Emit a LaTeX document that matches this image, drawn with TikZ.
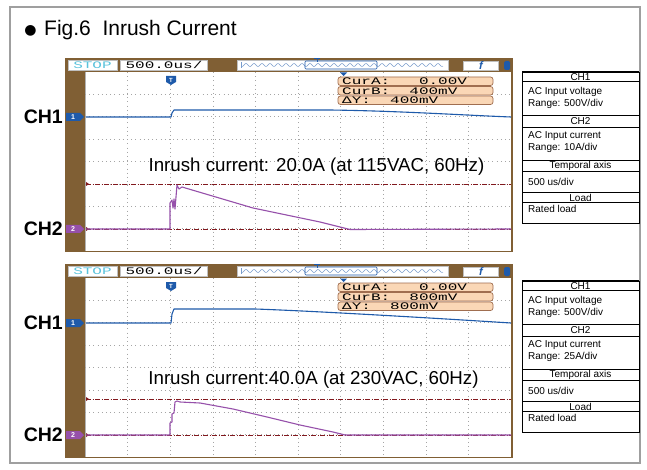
\documentclass[tikz,border=0pt]{standalone}
\usepackage{fontspec}
\setmainfont{Liberation Sans}
\newfontfamily\monofnt{Liberation Mono}
\newfontfamily\bulletfnt{DejaVu Sans}
\usetikzlibrary{calc}

\definecolor{scopebrown}{RGB}{128,95,52}
\definecolor{traceblue}{RGB}{30,90,170}
\definecolor{tracepurple}{RGB}{150,80,170}
\definecolor{cursorred}{RGB}{130,25,30}
\definecolor{peach}{RGB}{250,215,182}
\definecolor{peachline}{RGB}{160,110,80}
\definecolor{gridgray}{RGB}{165,165,165}
\definecolor{stopcyan}{RGB}{90,195,220}

% wide, flat lettering of the scope screen
\newcommand{\scopetxt}[1]{\scalebox{1.6}[1]{\monofnt\fontsize{10}{10}\selectfont #1}}

\begin{document}
\begin{tikzpicture}[x=1pt, y=-1pt]

                % Styles for the two scope screens and the side tables
                \tikzset{
                    trace/.style={line width=1.1pt, line join=round},
                    gridline/.style={gridgray, line width=0.6pt, dash pattern=on 0.8pt off 3.4pt},
                    cursorline/.style={cursorred, line width=0.8pt, dash pattern=on 5pt off 1.5pt on 1pt off 1.5pt},
                    cursorbox/.style={draw=peachline, fill=peach, rounded corners=2.5pt, line width=0.7pt},
                    scopelabel/.style={inner sep=0pt, anchor=west},
                    tabtext/.style={font=\fontsize{10}{12}\selectfont, inner sep=0pt},
                    chlabel/.style={font=\bfseries\fontsize{19.5}{20}\selectfont, inner sep=0pt, anchor=base east},
                    inrush/.style={font=\fontsize{18.7}{20}\selectfont, inner sep=0pt, anchor=base}
                }

                % Page size and the gray frame round everything
                \useasboundingbox (0,0) rectangle (647,470);
                \draw[gray!75, line width=1.5pt] (10,7) rectangle (640,463);

                % Title
                \node (bullet) at (30.5,31) [font=\bulletfnt\fontsize{14}{14}\selectfont, inner sep=0pt] {●};
                \node (title) at (44,36) [anchor=base west, inner sep=0pt, font=\fontsize{21}{24}\selectfont] {Fig.6\ \ Inrush Current};

                % The two scope screens, the second one 206 lower
                \foreach \n/\sy/\cb/\cu in {1/0/400mV/184, 2/206/800mV/193} {
                \begin{scope}[shift={(0,\sy)}]
                    % brown case and white screen
                    \fill[scopebrown] (65,58) rectangle (513,252);
                    \fill[white] (85,72) rectangle (511,251);
                    \draw[gray!60, line width=0.6pt] (85,72) -- (85,251);

                    % dotted grid, 10 x 8 divisions
                    \foreach \gx in {1,...,9}
                        \draw[gridline] ({85+42.6*\gx},72) -- ({85+42.6*\gx},251);
                    \foreach \gy in {1,...,7}
                        \draw[gridline] (85,{72+22.375*\gy}) -- (511,{72+22.375*\gy});

                    % top bar: run state, time base, memory window, trigger slope
                    \draw[gray!50, fill=white] (68,60) rectangle (117,70);
                    \node (stop\n) at (92.5,65.3) [inner sep=0pt, text=stopcyan] {\scopetxt{STOP}};
                    \draw[gray!50, fill=white] (120,60) rectangle (207,70);
                    \node (tdiv\n) at (164,65.3) [inner sep=0pt] {\scopetxt{500.0us/}};
                    \draw[gray!50, fill=white] (237,60) rectangle (448,70);
                    \draw[traceblue!60, line width=0.4pt] (241,62) -- (241,68);
                    \draw[traceblue!60, line width=0.5pt, domain=242:443, samples=300]
                        plot (\x, {65+1.5*sin((\x-240)*45)});
                    \draw[traceblue, line width=0.6pt, rounded corners=1pt] (305,61) rectangle (377,69);
                    \draw[traceblue, line width=0.7pt] (314,58.5) -- (320,58.5) (317,58.5) -- (317,62);
                    \draw[gray!50, fill=white] (463,61) rectangle (498,70);
                    \node (slope\n) at (481,65.5) [inner sep=0pt, text=traceblue, font=\itshape\bfseries\fontsize{11}{11}\selectfont] {f};
                    \fill[traceblue, rounded corners=1.5pt] (504,61) rectangle (510,70);

                    % trigger and cursor markers
                    \fill[traceblue] (166,76) -- (176,76) -- (176,82) -- (171,85) -- (166,82) -- cycle;
                    \node (trig\n) at (171,80) [inner sep=0pt, text=white, font=\bfseries\fontsize{6}{6}\selectfont] {T};
                    \fill[traceblue] (340,72.5) -- (347,72.5) -- (343.5,76) -- cycle;

                    % cursor read-outs
                    \draw[cursorbox] (338,77) rectangle (493,85.5);
                    \draw[cursorbox] (338,86.5) rectangle (493,95);
                    \draw[cursorbox] (338,96) rectangle (493,104.5);
                    \node (cura\n) at (342,81.3) [scopelabel] {\scopetxt{CurA:\ \ \ 0.00V}};
                    \node (curb\n) at (342,90.8) [scopelabel] {\scopetxt{CurB:\ \ \cb}};
                    \node (dy\n) at (342,100.3) [scopelabel] {\scopetxt{ΔY:\ \ \cb}};

                    % CH2 cursor lines
                    \draw[cursorline] (86,\cu) -- (511,\cu);
                    \draw[cursorline] (86,229) -- (511,229);
                    \fill[cursorred] (86,{\cu-2}) -- (89,\cu) -- (86,{\cu+2}) -- cycle;
                    \fill[cursorred] (86,227) -- (89,229) -- (86,231) -- cycle;

                    % channel markers on the left of the screen
                    \fill[traceblue] (66,113) -- (80,113) -- (84,117) -- (80,121) -- (66,121) -- cycle;
                    \node (mkone\n) at (73,117) [inner sep=0pt, text=white, font=\bfseries\fontsize{7}{7}\selectfont] {1};
                    \fill[tracepurple] (66,225) -- (80,225) -- (84,229) -- (80,233) -- (66,233) -- cycle;
                    \node (mktwo\n) at (73,229) [inner sep=0pt, text=white, font=\bfseries\fontsize{7}{7}\selectfont] {2};

                    \node (chone\n) at (63,123.5) [chlabel] {CH1};
                    \node (chtwo\n) at (63,235.5) [chlabel] {CH2};
                \end{scope}
                }

                % Traces at 115VAC
                \begin{scope}[trace]
                    \draw[traceblue] (86,117) -- (171,117) -- (172,113) -- (174,110) -- (330,110)
                        .. controls (400,111) and (460,115) .. (511,117);
                    \draw[tracepurple] (86,229) -- (170,229) -- (170,203) -- (172,200) -- (173,208)
                        -- (174,199) -- (175,209) -- (176,197) -- (177,185) -- (179,189) -- (182,187)
                        -- (253,208) -- (320,222) -- (350,229.5) -- (511,229);
                \end{scope}
                \node (inrushA) at (316.5,171.5) [inrush] {Inrush current: 20.0A (at 115VAC, 60Hz)};

                % Traces at 230VAC
                \begin{scope}[shift={(0,206)}, trace]
                    \draw[traceblue] (86,117) -- (171,117) -- (172,108) -- (174,103) -- (255,103)
                        .. controls (300,104.5) and (400,110) .. (511,117);
                    \draw[tracepurple] (86,229) -- (170,229) -- (170,217) -- (172,216) -- (172,208)
                        -- (174,207) -- (175,196) -- (177,195) -- (180,196) -- (200,197) -- (233,203)
                        -- (267,211) -- (300,219) -- (333,226) -- (345,229) -- (511,229);
                    \node (inrushB) at (313.5,178) [inrush] {Inrush current:40.0A (at 230VAC, 60Hz)};
                \end{scope}

                % Measuring conditions beside each screen
                \foreach \tb/\ty/\rng in {1/72/10A, 2/281/25A} {
                \begin{scope}[shift={(0,\ty)}]
                    \draw[line width=0.7pt] (522,0) rectangle (639,151.5);
                    \draw[line width=1.1pt] (522,0) -- (639,0);
                    \foreach \ly in {43.5,88.5,120.5}
                        \draw[line width=1.1pt] (522,\ly) -- (639,\ly);
                    \foreach \ly in {9.5,55,99.5,130.5}
                        \draw[line width=0.6pt] (522,\ly) -- (639,\ly);
                    \node (hone\tb) at (580.5,5) [tabtext] {CH1};
                    \node (bone\tb) at (528,20) [tabtext, anchor=west] {AC Input voltage};
                    \node (bonr\tb) at (528,31.5) [tabtext, anchor=west] {Range: 500V/div};
                    \node (htwo\tb) at (580.5,49.5) [tabtext] {CH2};
                    \node (btwo\tb) at (528,64) [tabtext, anchor=west] {AC Input current};
                    \node (btwr\tb) at (528,76) [tabtext, anchor=west] {Range: \rng/div};
                    \node (htime\tb) at (580.5,94) [tabtext] {Temporal axis};
                    \node (btime\tb) at (528,110) [tabtext, anchor=west] {500 us/div};
                    \node (hload\tb) at (580.5,125.5) [tabtext] {Load};
                    \node (bload\tb) at (528,137) [tabtext, anchor=west] {Rated load};
                \end{scope}
                }

\end{tikzpicture}
\end{document}
